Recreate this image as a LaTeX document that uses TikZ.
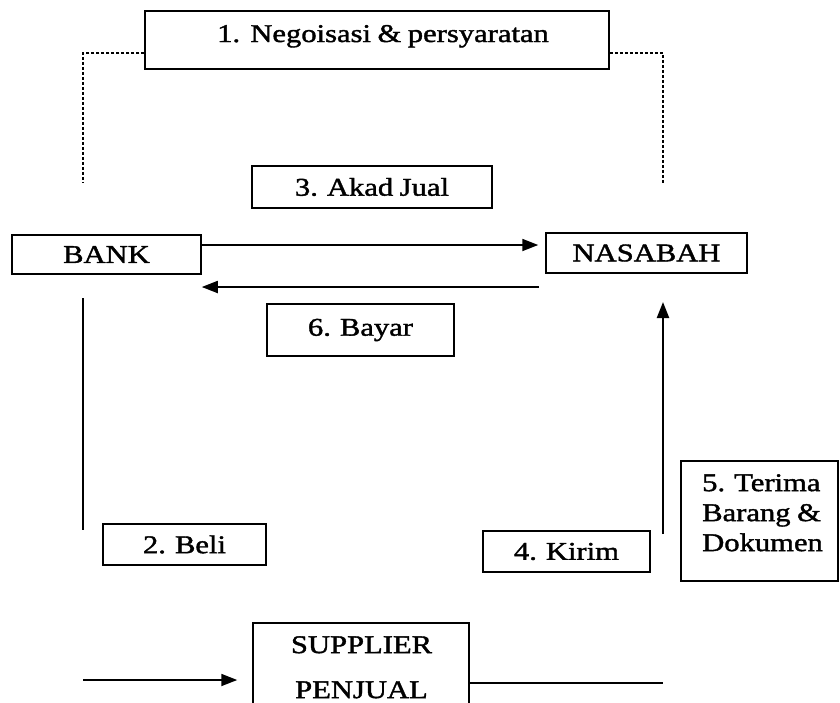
\documentclass[tikz,border=0pt]{standalone}
\usepackage{fontspec}
\setmainfont{Liberation Serif}[FakeStretch=1.2,FakeBold=1.5,WordSpace=0.85]
\usetikzlibrary{arrows.meta,calc}
\newcommand{\fsz}{\fontsize{25.5}{30}\selectfont}
\begin{document}
\begin{tikzpicture}[x=1pt,y=-1pt,
  box/.style={draw, line width=1.5pt, inner sep=0pt, font=\fsz},
  txt/.style={inner sep=0pt, font=\fsz},
  arr/.style={line width=1.8pt, -{Triangle[length=16pt,width=12pt]}},
  plainline/.style={line width=1.3pt},
  dots/.style={line width=1.3pt, dash pattern=on 3pt off 2pt},
]
\path[use as bounding box] (0,0) rectangle (840,702);
\clip (0,0) rectangle (840,702);
\fill[white] (0,0) rectangle (840,702);

% boxes
\node[box, minimum width=464pt, minimum height=58pt] (nego) at (377,40) {};
\node[txt, anchor=base west] (negot) at (217,42) {1.\hspace{0.4em}Negoisasi \& persyaratan};
\node[box, minimum width=240pt, minimum height=42pt] (akad) at (372,187) {3. Akad Jual};
\node[box, minimum width=189pt, minimum height=39pt] (bank) at (106.5,254.5) {BANK};
\node[box, minimum width=201pt, minimum height=40pt] (nas) at (646.5,253) {NASABAH};
\node[box, minimum width=187pt, minimum height=52pt] (bayar) at (360.5,330) {6. Bayar};
\node[box, minimum width=163pt, minimum height=41pt] (beli) at (184.5,544.5) {2. Beli};
\node[box, minimum width=167pt, minimum height=41pt] (kirim) at (566.5,551.5) {4. Kirim};
\node[box, minimum width=157pt, minimum height=120pt] (terima) at (759.5,521) {};
\node[txt, anchor=north west, align=left] (terimat) at (702,474) {5. Terima\\Barang \&\\Dokumen};
\node[box, minimum width=216pt, minimum height=137pt] (sup) at (361,691.5) {};
\node[txt, anchor=north, align=center] (supt) at (361.5,636) {SUPPLIER\\[15pt]PENJUAL};

% free ends
\coordinate (dl) at (83,183);
\coordinate (dr) at (663,183);
\coordinate (a1) at ([yshift=9.5pt]bank.east);
\coordinate (b0) at (539,287);
\coordinate (c0) at (83,298);
\coordinate (c1) at (83,530);
\coordinate (u0) at (663,534);
\coordinate (u1) at (663,302);
\coordinate (s0) at (83,680);
\coordinate (s1) at (663,683);

% connectors
\draw[dots] ([yshift=-13pt]nego.west) -| (dl);
\draw[dots] ([yshift=-13pt]nego.east) -| (dr);
\draw[arr, shorten >=7pt] (a1) -- (a1 -| nas.west);
\draw[arr] (b0) -- (b0 -| bank.east);
\draw[plainline] (c0) -- (c1);
\draw[arr, line width=2.2pt] (u0) -- (u1);
\draw[arr, shorten >=15pt] (s0) -- (s0 -| sup.west);
\draw[plainline] (sup.east |- s1) -- (s1);
\end{tikzpicture}
\end{document}
